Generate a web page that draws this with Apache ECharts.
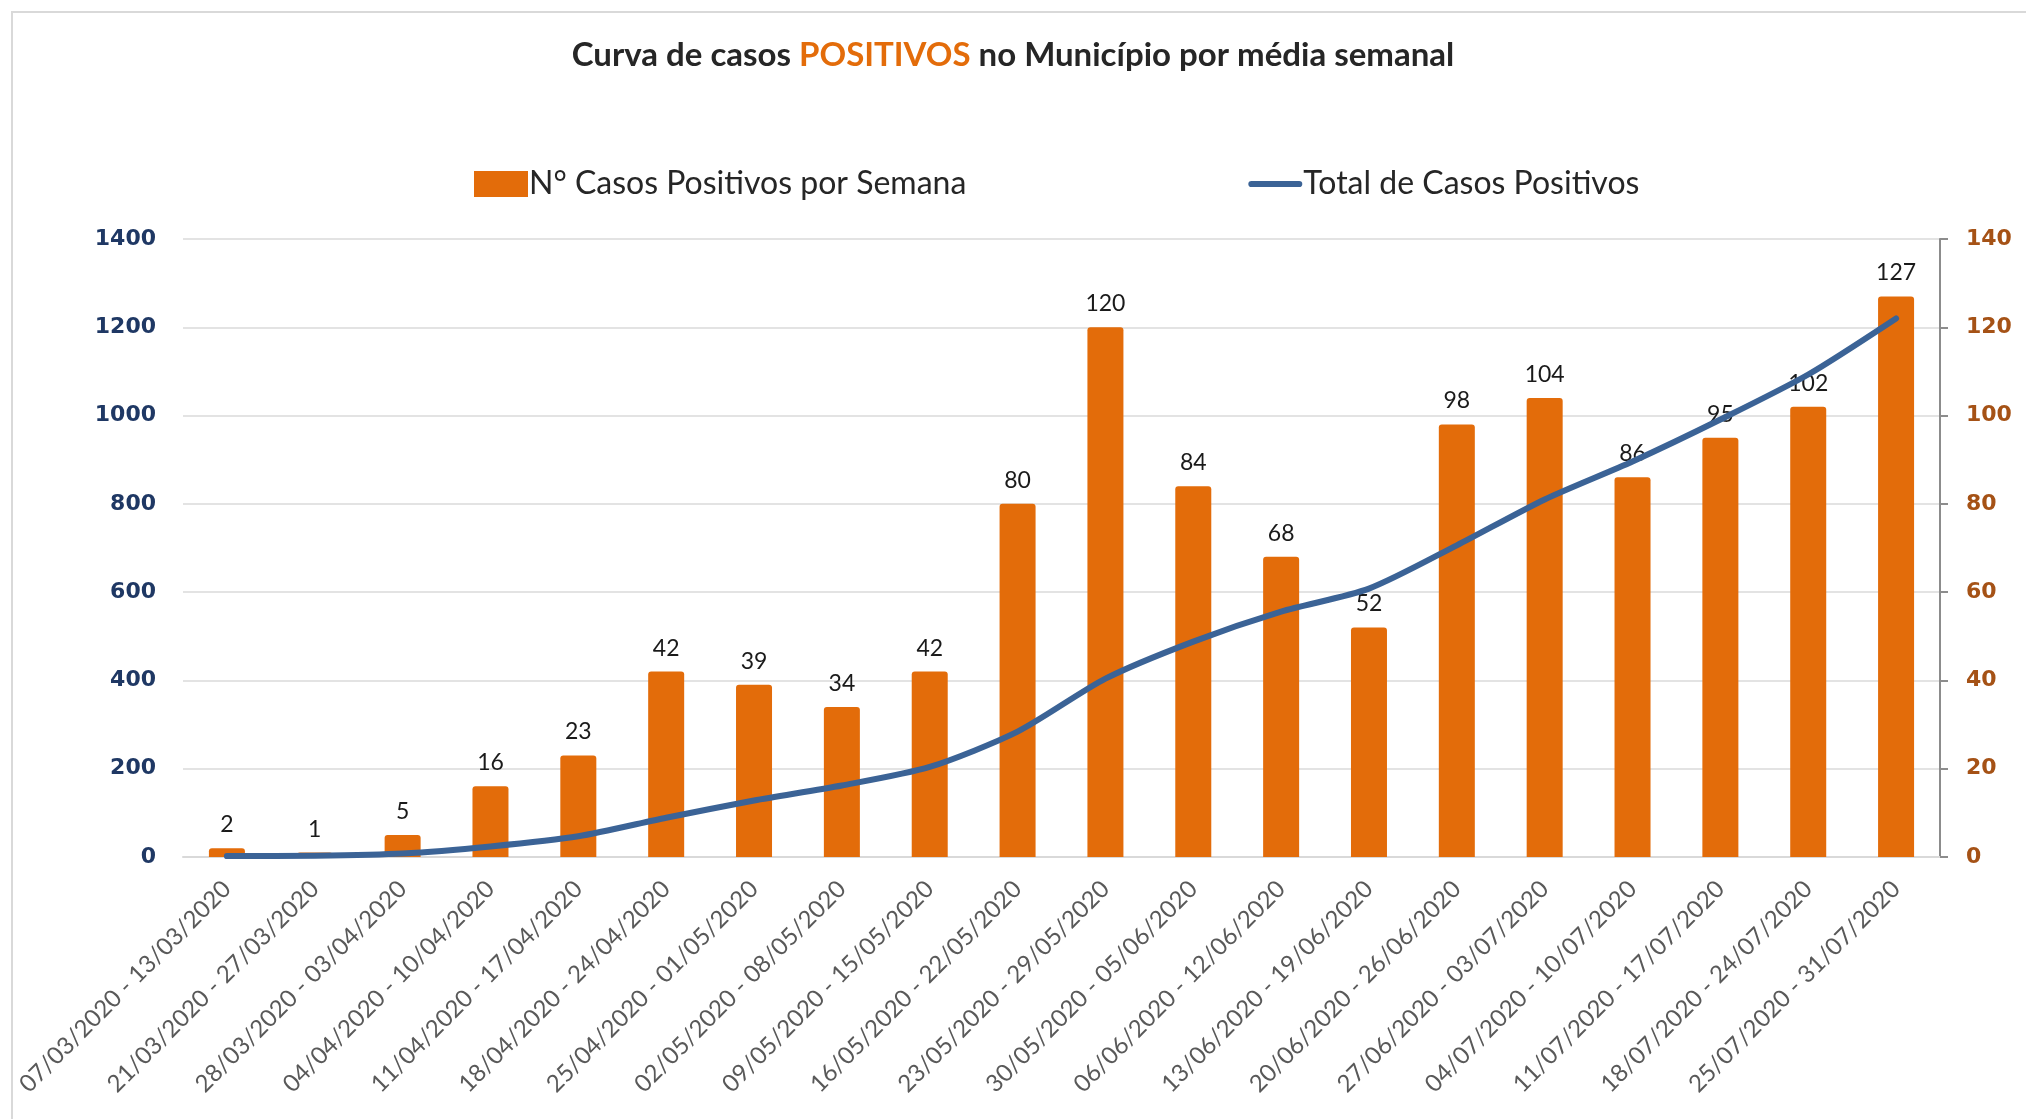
<!DOCTYPE html>
<html>
<head>
<meta charset="utf-8">
<script src="https://cdn.jsdelivr.net/npm/echarts@6/dist/echarts.min.js"></script>
<style>
  html, body { margin: 0; padding: 0; background: #fff; }
  #chart { width: 2026px; height: 1119px; }
</style>
</head>
<body>
<div id="chart"></div>
<script>
const weeks = [
  '07/03/2020 - 13/03/2020', '21/03/2020 - 27/03/2020', '28/03/2020 - 03/04/2020',
  '04/04/2020 - 10/04/2020', '11/04/2020 - 17/04/2020', '18/04/2020 - 24/04/2020',
  '25/04/2020 - 01/05/2020', '02/05/2020 - 08/05/2020', '09/05/2020 - 15/05/2020',
  '16/05/2020 - 22/05/2020', '23/05/2020 - 29/05/2020', '30/05/2020 - 05/06/2020',
  '06/06/2020 - 12/06/2020', '13/06/2020 - 19/06/2020', '20/06/2020 - 26/06/2020',
  '27/06/2020 - 03/07/2020', '04/07/2020 - 10/07/2020', '11/07/2020 - 17/07/2020',
  '18/07/2020 - 24/07/2020', '25/07/2020 - 31/07/2020'
]
// casos positivos por semana (eixo direito)
const weekly = [2, 1, 5, 16, 23, 42, 39, 34, 42, 80, 120, 84, 68, 52, 98, 104, 86, 95, 102, 127]
// total acumulado (eixo esquerdo)
const total = [2, 3, 8, 24, 47, 89, 128, 162, 204, 284, 404, 488, 556, 608, 706, 810, 896, 991, 1093, 1220]

const orange = '#e36c0a'
const blue = '#3b6396'
const font = 'Lato'

const myChart = echarts.init(document.getElementById('chart'))

const options = {
  animation: false,
  backgroundColor: '#fff',
  graphic: [{
    type: 'rect',
    shape: { x: 12, y: 12, width: 2100, height: 1200 },
    style: { fill: 'none', stroke: '#d9d9d9', lineWidth: 2 },
    silent: true
  }],
  title: {
    text: '{a|Curva de casos }{b|POSITIVOS}{a| no Município por média semanal}',
    left: 'center',
    top: 34,
    textStyle: {
      rich: {
        a: { fontFamily: font, fontWeight: 'bold', fontSize: 33, color: '#262626' },
        b: { fontFamily: font, fontWeight: 'bold', fontSize: 33, color: orange }
      }
    }
  },
  legend: {
    left: 469,
    top: 163,
    itemGap: 282,
    itemWidth: 54,
    itemHeight: 26,
    textStyle: { fontFamily: font, fontSize: 32, color: '#262626', padding: [0, 0, 0, -4] },
    data: [
      { name: 'N° Casos Positivos por Semana', icon: 'rect' },
      { name: 'Total de Casos Positivos', icon: 'path://M3,0 L49,0 A3,3 0 0 1 49,6 L3,6 A3,3 0 0 1 3,0 Z' }
    ]
  },
  grid: { left: 183, right: 86, top: 239, bottom: 262 },
  xAxis: {
    type: 'category',
    data: weeks,
    axisTick: { show: false },
    axisLine: { lineStyle: { color: '#d9d9d9', width: 2 } },
    axisLabel: {
      rotate: 45,
      interval: 0,
      margin: 28,
      fontFamily: font,
      fontSize: 24,
      color: '#595959'
    }
  },
  yAxis: [{
    type: 'value',
    min: 0,
    max: 1400,
    interval: 200,
    axisLine: { show: false },
    axisTick: { show: false },
    splitLine: { lineStyle: { color: '#e3e3e3', width: 2 } },
    axisLabel: {
      margin: 27,
      fontFamily: 'DejaVu Sans',
      fontWeight: 'bold',
      fontSize: 22,
      color: '#1f3864',
      formatter: v => String(v)
    }
  }, {
    type: 'value',
    min: 0,
    max: 140,
    interval: 20,
    position: 'right',
    axisLine: { show: true, lineStyle: { color: '#8c8c8c', width: 2 } },
    axisTick: { show: true, length: 8, lineStyle: { color: '#8c8c8c', width: 2 } },
    splitLine: { show: false },
    axisLabel: {
      margin: 26,
      fontFamily: 'DejaVu Sans',
      fontWeight: 'bold',
      fontSize: 22,
      color: '#a55216',
      formatter: v => String(v)
    }
  }],
  series: [{
    name: 'N° Casos Positivos por Semana',
    type: 'bar',
    yAxisIndex: 1,
    data: weekly,
    barWidth: 36,
    itemStyle: { color: orange, borderRadius: [3, 3, 0, 0] },
    label: {
      show: true,
      position: 'top',
      distance: 12,
      fontFamily: font,
      fontSize: 23,
      color: '#1a1a1a'
    },
    z: 2
  }, {
    name: 'Total de Casos Positivos',
    type: 'line',
    yAxisIndex: 0,
    data: total,
    smooth: 0.25,
    symbol: 'none',
    lineStyle: { color: blue, width: 6, cap: 'round', join: 'round' },
    itemStyle: { color: blue },
    z: 3
  }]
}

myChart.setOption(options)
</script>
</body>
</html>
